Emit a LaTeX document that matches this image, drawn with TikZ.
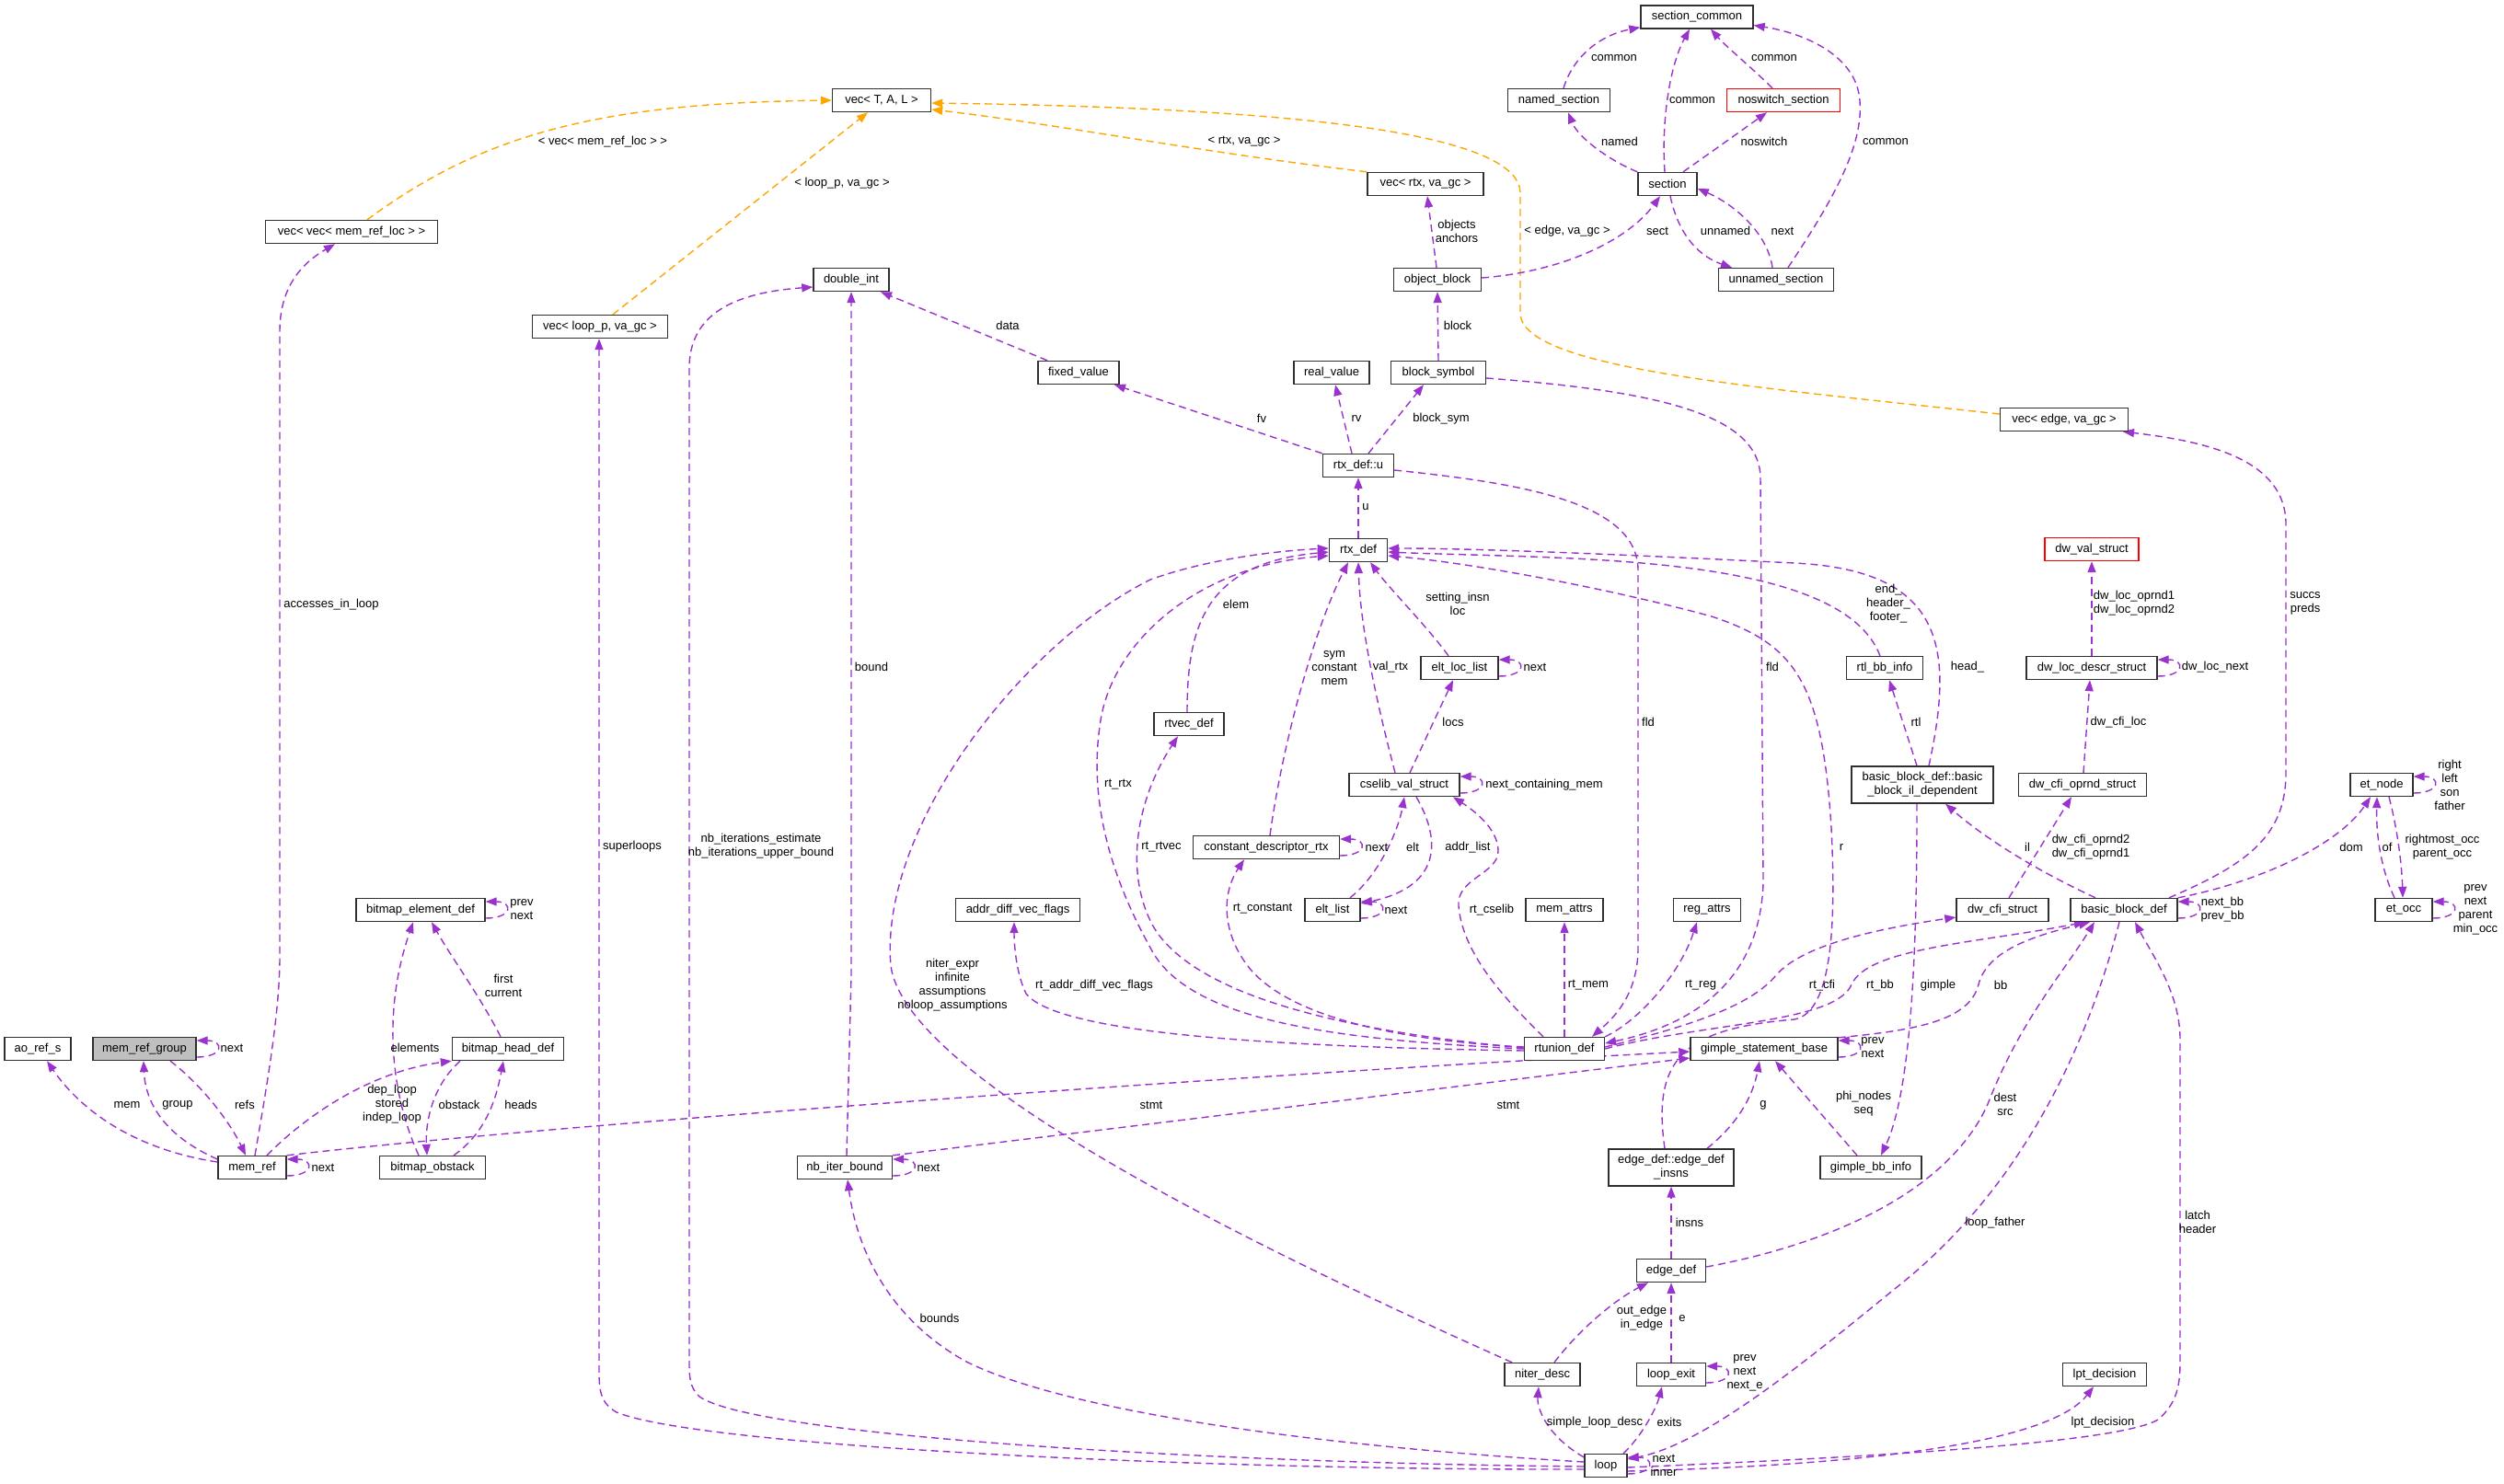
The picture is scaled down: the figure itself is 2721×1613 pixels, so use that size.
\documentclass[tikz,border=0pt]{standalone}
\usepackage{fontspec}
\setmainfont{Liberation Sans}
\usetikzlibrary{arrows.meta}
\pgfdeclarelayer{bg}
\pgfsetlayers{bg,main}
\definecolor{epurple}{HTML}{9A32CD}
\definecolor{eorange}{HTML}{FFA500}
\definecolor{boxgray}{HTML}{BFBFBF}
\definecolor{boxline}{HTML}{303030}
\tikzset{
  box/.style={draw=boxline, line width=1.4pt, fill=white, minimum height=25pt, inner sep=0pt, font=\fontsize{13pt}{15pt}\selectfont, align=center},
  box2/.style={box, minimum height=40pt},
  redbox/.style={box, draw=red},
  conn/.style={draw=epurple, line width=1.4pt, dash pattern=on 8pt off 5pt, -{Triangle[length=12pt,width=9pt,fill=epurple]}},
  tconn/.style={conn, draw=eorange, -{Triangle[length=12pt,width=9pt,fill=eorange]}},
  lab/.style={font=\fontsize{13pt}{15pt}\selectfont, align=center, inner sep=0pt},
  selfloop/.style={conn}
}
\begin{document}
\begin{tikzpicture}[x=1pt,y=-1pt]
\useasboundingbox (0,0) rectangle (2721,1613);
\begin{pgfonlayer}{bg}
\fill[white] (0,0) rectangle (2721,1613);
\end{pgfonlayer}

% ---------------- nodes
\node[box, minimum width=187pt] (vecvec) at (382,252) {vec< vec< mem\_ref\_loc > >};
\node[box, minimum width=147pt] (vecloop) at (652,355) {vec< loop\_p, va\_gc >};
\node[box, minimum width=107pt] (vecT) at (958,109) {vec< T, A, L >};
\node[box, minimum width=82pt] (doubleint) at (925,304) {double\_int};
\node[box, minimum width=88pt] (fixedvalue) at (1172,405) {fixed\_value};
\node[box, minimum width=122pt] (seccommon) at (1844,18.5) {section\_common};
\node[box, minimum width=111pt] (namedsec) at (1694,109) {named\_section};
\node[redbox, minimum width=123pt] (noswitch) at (1938,109) {noswitch\_section};
\node[box, minimum width=126pt] (vecrtx) at (1549,200) {vec< rtx, va\_gc >};
\node[box, minimum width=64pt] (section) at (1812,200) {section};
\node[box, minimum width=95pt] (objblock) at (1562,304) {object\_block};
\node[box, minimum width=125pt] (unnamed) at (1930,304) {unnamed\_section};
\node[box, minimum width=82pt] (realvalue) at (1447,405) {real\_value};
\node[box, minimum width=103pt] (blocksym) at (1563,405) {block\_symbol};
\node[box, minimum width=77pt] (rtxu) at (1476,506) {rtx\_def::u};
\node[box, minimum width=139pt] (vecedge) at (2243,456) {vec< edge, va\_gc >};
\node[box, minimum width=140pt] (bitelem) at (457,989) {bitmap\_element\_def};
\node[box, minimum width=76pt] (rtvec) at (1292,787) {rtvec\_def};
\node[box, minimum width=159pt] (constdesc) at (1376,921) {constant\_descriptor\_rtx};
\node[box, minimum width=135pt] (addrdiff) at (1106,989) {addr\_diff\_vec\_flags};
\node[box, minimum width=63pt] (rtxdef) at (1476,598) {rtx\_def};
\node[box, minimum width=84pt] (eltloc) at (1586,726) {elt\_loc\_list};
\node[box, minimum width=120pt] (cselib) at (1526,853) {cselib\_val\_struct};
\node[box, minimum width=60pt] (eltlist) at (1448,989) {elt\_list};
\node[box, minimum width=84pt] (memattrs) at (1700,989) {mem\_attrs};
\node[box, minimum width=73pt] (regattrs) at (1855,989) {reg\_attrs};
\node[box, minimum width=83pt] (rtlbb) at (2048,726) {rtl\_bb\_info};
\node[box2, minimum width=154pt] (bbil) at (2089,853) {basic\_block\_def::basic\\\_block\_il\_dependent};
\node[redbox, minimum width=102pt] (dwval) at (2273,597) {dw\_val\_struct};
\node[box, minimum width=142pt] (dwloc) at (2273,726) {dw\_loc\_descr\_struct};
\node[box, minimum width=139pt] (dwcfiop) at (2263,853) {dw\_cfi\_oprnd\_struct};
\node[box, minimum width=68pt] (etnode) at (2588,853) {et\_node};
\node[box, minimum width=100pt] (dwcfi) at (2176,989) {dw\_cfi\_struct};
\node[box, minimum width=116pt] (bbdef) at (2308,989) {basic\_block\_def};
\node[box, minimum width=62pt] (etocc) at (2612,989) {et\_occ};
\node[box, minimum width=72pt] (aoref) at (41,1140) {ao\_ref\_s};
\node[box, fill=boxgray, minimum width=112pt] (mrgroup) at (157,1140) {mem\_ref\_group};
\node[box, minimum width=121pt] (bithead) at (552,1140) {bitmap\_head\_def};
\node[box, minimum width=74pt] (memref) at (274,1269) {mem\_ref};
\node[box, minimum width=115pt] (bitobst) at (470,1269) {bitmap\_obstack};
\node[box, minimum width=103pt] (nbiter) at (918,1269) {nb\_iter\_bound};
\node[box, minimum width=87pt] (rtunion) at (1700,1140) {rtunion\_def};
\node[box, minimum width=160pt] (gimple) at (1917,1140) {gimple\_statement\_base};
\node[box2, minimum width=136pt] (edgeinsns) at (1816,1269) {edge\_def::edge\_def\\\_insns};
\node[box, minimum width=110pt] (gimplebb) at (2033,1269) {gimple\_bb\_info};
\node[box, minimum width=75pt] (edgedef) at (1816,1381) {edge\_def};
\node[box, minimum width=82pt] (niter) at (1676,1494) {niter\_desc};
\node[box, minimum width=75pt] (loopexit) at (1816,1494) {loop\_exit};
\node[box, minimum width=46pt] (loop) at (1745,1593) {loop};
\node[box, minimum width=91pt] (lpt) at (2287,1494) {lpt\_decision};

\begin{pgfonlayer}{bg}
% ---------------- template (orange) connectors
\draw[tconn] ([xshift=17pt]vecvec.north) .. controls (520,150) and (640,112) .. (vecT.west);
\draw[tconn] ([xshift=14pt]vecloop.north) -- ([xshift=-15pt]vecT.south);
\draw[tconn] (vecrtx.north west) .. controls (1300,165) and (1150,135) .. ([yshift=-10pt]vecT.east);
\draw[tconn] ([yshift=6pt]vecedge.west) .. controls (1900,420) and (1652,400) .. (1652,340) -- (1652,210) .. controls (1652,150) and (1450,118) .. ([yshift=-3pt]vecT.east);

% ---------------- section family
\draw[conn] ([xshift=5pt]namedsec.north) .. controls (1710,60) and (1740,38) .. ([yshift=2pt]seccommon.south west);
\draw[conn] ([xshift=-3pt]section.north) .. controls (1805,130) and (1815,70) .. ([xshift=-8pt]seccommon.south);
\draw[conn] ([xshift=-12pt]noswitch.north) .. controls (1905,75) and (1875,50) .. ([xshift=15pt]seccommon.south);
\draw[conn] ([xshift=13pt]unnamed.north) .. controls (1990,220) and (2025,160) .. (2021,110) .. controls (2018,60) and (1960,36) .. ([yshift=-9pt]seccommon.east);
\draw[conn] (section.north west) .. controls (1750,175) and (1715,150) .. ([xshift=10pt]namedsec.south);
\draw[conn] ([xshift=17pt]section.north) .. controls (1860,165) and (1895,140) .. ([xshift=-18pt]noswitch.south);
\draw[conn] ([yshift=2pt]objblock.east) .. controls (1700,295) and (1770,260) .. ([xshift=-8pt]section.south);
\draw[conn] ([xshift=3pt]section.south) .. controls (1825,260) and (1850,280) .. ([xshift=-48pt]unnamed.north);
\draw[conn] ([xshift=-4pt]unnamed.north) .. controls (1920,250) and (1880,220) .. ([yshift=-5pt]section.east);
\draw[conn] ([xshift=-1pt]objblock.north) -- ([xshift=2pt]vecrtx.south);
\draw[conn] (blocksym.north) -- (objblock.south);

% ---------------- rtx_def::u
\draw[conn] ([xshift=-7pt]rtxu.north) -- ([xshift=4pt]realvalue.south);
\draw[conn] ([xshift=11pt]rtxu.north) -- ([xshift=-16pt]blocksym.south);
\draw[conn] (rtxu.north west) -- ([xshift=39pt]fixedvalue.south);
\draw[conn] ([xshift=-34pt]fixedvalue.north) -- ([xshift=32pt]doubleint.south);
\draw[conn] (rtxdef.north) -- (rtxu.south);
\draw[conn] ([yshift=-5pt]rtxu.east) .. controls (1650,525) and (1780,545) .. (1780,620) -- (1780,1030) .. controls (1780,1080) and (1755,1105) .. ([xshift=30pt]rtunion.north);
\draw[conn] ([yshift=-6pt]blocksym.east) .. controls (1800,425) and (1913,450) .. (1913,520) -- (1916,960) .. controls (1912,1080) and (1820,1118) .. ([yshift=6pt]rtunion.east);

% ---------------- rtunion_def
\draw[conn] (rtunion.north) -- (memattrs.south);
\draw[conn] (rtunion.north east) .. controls (1780,1110) and (1825,1060) .. ([xshift=-11pt]regattrs.south);
\draw[conn] ([yshift=2pt]rtunion.east) .. controls (1850,1112) and (1905,1090) .. (1930,1060) .. controls (1960,1025) and (2050,1008) .. ([yshift=-8pt]dwcfi.west);
\draw[conn] (rtunion.east) .. controls (1850,1112) and (1995,1112) .. (2012,1070) .. controls (2030,1030) and (2150,1025) .. ([xshift=-42pt]bbdef.south);
\draw[conn] ([xshift=-23pt]rtunion.north) .. controls (1640,1090) and (1590,1040) .. (1585,985) .. controls (1582,955) and (1628,950) .. (1628,925) .. controls (1628,900) and (1600,880) .. ([xshift=53pt]cselib.south);
\draw[conn] ([yshift=-2pt]rtunion.west) .. controls (1400,1138) and (1150,1125) .. (1115,1080) .. controls (1105,1060) and (1102,1030) .. ([xshift=-4pt]addrdiff.south);
\draw[conn] ([yshift=2pt]rtunion.west) .. controls (1500,1130) and (1400,1100) .. (1360,1055) .. controls (1330,1020) and (1325,975) .. ([xshift=-24pt]constdesc.south);
\draw[conn] ([yshift=1pt]rtunion.west) .. controls (1450,1120) and (1300,1080) .. (1255,1010) .. controls (1225,960) and (1228,880) .. ([xshift=-12pt]rtvec.south);
\draw[conn] (rtunion.west) .. controls (1450,1130) and (1290,1110) .. (1250,1030) .. controls (1200,940) and (1185,860) .. (1195,790) .. controls (1205,700) and (1300,615) .. ([yshift=-6pt]rtxdef.west);

% ---------------- into rtx_def
\draw[conn] ([xshift=-2pt]rtvec.north) .. controls (1290,680) and (1310,612) .. ([yshift=-2pt]rtxdef.west);
\draw[conn] ([xshift=-33pt]niter.north) .. controls (1350,1350) and (985,1170) .. (968,1050) .. controls (955,900) and (1110,700) .. (1250,630) .. controls (1320,605) and (1400,598) .. ([yshift=2pt]rtxdef.west);
\draw[conn] ([xshift=4pt]constdesc.north) .. controls (1395,800) and (1430,680) .. ([xshift=-11pt]rtxdef.south);
\draw[conn] ([xshift=-10pt]cselib.north) .. controls (1495,760) and (1478,680) .. (rtxdef.south);
\draw[conn] ([xshift=-12pt]eltloc.north) .. controls (1550,680) and (1510,640) .. ([xshift=13pt]rtxdef.south);
\draw[conn] ([xshift=6pt]cselib.north) -- ([xshift=-7pt]eltloc.south);
\draw[conn] ([xshift=13pt]cselib.south) .. controls (1570,920) and (1560,965) .. ([yshift=7pt]eltlist.east);
\draw[conn] ([xshift=19pt]eltlist.north) .. controls (1500,950) and (1520,900) .. (cselib.south);
\draw[conn] ([xshift=-5pt]rtlbb.north) .. controls (2000,600) and (1700,608) .. ([yshift=-2pt]rtxdef.east);
\draw[conn] ([xshift=7pt]bbil.north) .. controls (2125,700) and (2110,620) .. (1950,612) .. controls (1750,602) and (1600,596) .. ([yshift=2pt]rtxdef.east);
\draw[conn] ([xshift=-7pt]edgeinsns.north) .. controls (1795,1150) and (1830,1118) .. (1950,1108) .. controls (1992,1100) and (1995,1000) .. (1990,900) .. controls (1980,740) and (1950,700) .. (1860,670) .. controls (1750,640) and (1600,612) .. ([yshift=-6pt]rtxdef.east);

% ---------------- gimple / basic block
\draw[conn] ([xshift=39pt]edgeinsns.north) .. controls (1890,1220) and (1905,1190) .. ([xshift=-5pt]gimple.south);
\draw[conn] ([xshift=-15pt]gimplebb.north) -- ([xshift=12pt]gimple.south);
\draw[conn] ([xshift=-6pt]bbil.south) .. controls (2083,1000) and (2080,1180) .. ([xshift=11pt]gimplebb.north);
\draw[conn] ([xshift=-6pt]bbil.north) -- ([xshift=5pt]rtlbb.south);
\draw[conn] ([yshift=-1pt]gimple.north east) .. controls (2080,1120) and (2140,1110) .. (2150,1070) .. controls (2160,1030) and (2220,1015) .. ([xshift=-37pt]bbdef.south);
\draw[conn] (dwloc.north) -- (dwval.south);
\draw[conn] ([xshift=1pt]dwcfiop.north) -- ([xshift=-2pt]dwloc.south);
\draw[conn] ([xshift=7pt]dwcfi.north) -- ([xshift=-12pt]dwcfiop.south);
\draw[conn] ([xshift=-31pt]bbdef.north) .. controls (2200,940) and (2150,905) .. ([xshift=25pt]bbil.south);
\draw[conn] (bbdef.north east) .. controls (2450,960) and (2540,920) .. ([xshift=-12pt]etnode.south);
\draw[conn] ([xshift=49pt]bbdef.north) .. controls (2440,940) and (2484,910) .. (2484,840) -- (2484,570) .. controls (2484,500) and (2400,480) .. ([xshift=64pt]vecedge.south);
\draw[conn] ([yshift=-2pt]loop.east) .. controls (2000,1585) and (2300,1570) .. (2345,1543) .. controls (2366,1525) and (2369,1505) .. (2369,1480) -- (2369,1130) .. controls (2369,1080) and (2340,1040) .. ([xshift=12pt]bbdef.south);
\draw[conn] ([xshift=-5pt]bbdef.south) .. controls (2270,1130) and (2200,1290) .. (2060,1400) .. controls (1950,1490) and (1850,1570) .. ([yshift=7pt]loop.east);
\draw[conn] ([yshift=-6pt]loop.east) .. controls (2050,1592) and (2230,1565) .. ([xshift=-12pt]lpt.south);
\draw[conn] ([yshift=4pt]edgedef.east) .. controls (2000,1350) and (2120,1290) .. (2160,1200) .. controls (2195,1110) and (2240,1060) .. ([xshift=-32pt]bbdef.south);

% ---------------- loop family
\draw[conn] ([yshift=9pt]loop.west) .. controls (1680,1560) and (1670,1530) .. ([xshift=-4pt]niter.south);
\draw[conn] ([xshift=19pt]loop.north) .. controls (1785,1560) and (1800,1530) .. ([xshift=-10pt]loopexit.south);
\draw[conn] (loopexit.north) -- (edgedef.south);
\draw[conn] ([xshift=13pt]niter.north) .. controls (1720,1440) and (1760,1410) .. ([xshift=-25pt]edgedef.south);
\draw[conn] (edgedef.north) -- (edgeinsns.south);
\draw[conn] ([yshift=4pt]loop.west) .. controls (1400,1570) and (1150,1530) .. (1050,1480) .. controls (960,1430) and (930,1350) .. ([xshift=3pt]nbiter.south);
\draw[conn] ([yshift=-1pt]loop.west) .. controls (1300,1590) and (820,1560) .. (760,1518) .. controls (749,1508) and (749,1495) .. (749,1480) -- (749,400) .. controls (749,340) and (800,318) .. ([yshift=-8pt]doubleint.west);
\draw[conn] ([yshift=-4pt]loop.west) .. controls (1300,1598) and (760,1572) .. (670,1535) .. controls (652,1525) and (651,1510) .. (651,1490) -- ([xshift=-1pt]vecloop.south);
\draw[conn] ([xshift=2pt]nbiter.north) -- (925,1060) -- (doubleint.south);
\draw[conn] (nbiter.north east) -- ([yshift=-10pt]gimple.west);
\draw[conn] (memref.north east) .. controls (600,1222) and (1400,1165) .. ([yshift=-3pt]gimple.west);

% ---------------- et
\draw[conn] ([xshift=8pt]etnode.south) .. controls (2605,900) and (2610,940) .. ([xshift=-1pt]etocc.north);
\draw[conn] ([xshift=-10pt]etocc.north) .. controls (2585,940) and (2582,900) .. ([xshift=-5pt]etnode.south);

% ---------------- bitmap & mem_ref
\draw[conn] ([xshift=16pt]memref.north) .. controls (330,1215) and (400,1165) .. (bithead.south west);
\draw[conn] ([xshift=-52pt]bithead.south) .. controls (470,1180) and (462,1220) .. ([xshift=-6pt]bitobst.north);
\draw[conn] ([xshift=23pt]bitobst.north) .. controls (530,1230) and (540,1190) .. ([xshift=-5pt]bithead.south);
\draw[conn] ([xshift=-8pt]bithead.north) .. controls (520,1080) and (490,1040) .. ([xshift=12pt]bitelem.south);
\draw[conn] ([xshift=-15pt]bitobst.north) .. controls (425,1190) and (415,1100) .. ([xshift=-8pt]bitelem.south);
\draw[conn] ([yshift=9pt]memref.west) .. controls (180,1235) and (158,1200) .. ([xshift=-1pt]mrgroup.south);
\draw[conn] ([yshift=6pt]memref.west) .. controls (150,1250) and (90,1210) .. ([xshift=10pt]aoref.south);
\draw[conn] ([xshift=28pt]mrgroup.south) .. controls (220,1180) and (250,1220) .. ([xshift=-7pt]memref.north);
\draw[conn] ([xshift=3pt]memref.north) .. controls (290,1180) and (304,1100) .. (304,1040) -- (304,360) .. controls (304,310) and (330,285) .. ([xshift=-18pt]vecvec.south);

% ---------------- self loops
\foreach \n in {mrgroup,memref,bitelem,nbiter,constdesc,eltloc,cselib,eltlist,dwloc,bbdef,etnode,etocc,gimple,loopexit,loop}{
  \draw[selfloop] ([yshift=-9pt]\n.east) .. controls +(30pt,0pt) and +(30pt,0pt) .. ([yshift=9pt]\n.east);
}
\end{pgfonlayer}

% ---------------- labels
\node[lab] (t1) at (655,154) {< vec< mem\_ref\_loc > >};
\node[lab] (t2) at (915,199) {< loop\_p, va\_gc >};
\node[lab] (t3) at (1352,154) {< rtx, va\_gc >};
\node[lab] (t4) at (1703,251) {< edge, va\_gc >};
\node[lab] (l1) at (1754,63) {common};
\node[lab] (l2) at (1839,109) {common};
\node[lab] (l3) at (1928,63) {common};
\node[lab] (l4) at (2049,154) {common};
\node[lab] (l5) at (1760,154) {named};
\node[lab] (l6) at (1917,154) {noswitch};
\node[lab] (l7) at (1801,251) {sect};
\node[lab] (l8) at (1875,251) {unnamed};
\node[lab] (l9) at (1937,251) {next};
\node[lab] (l10) at (1583,251) {objects\\anchors};
\node[lab] (l11) at (1584,354) {block};
\node[lab] (l12) at (1474,455) {rv};
\node[lab] (l13) at (1566,455) {block\_sym};
\node[lab] (l14) at (1371,455) {fv};
\node[lab] (l15) at (1095,354) {data};
\node[lab] (l16) at (1484,551) {u};
\node[lab] (l17) at (1791,785) {fld};
\node[lab] (l18) at (1926,725) {fld};
\node[lab] (l19) at (1726,1071) {rt\_mem};
\node[lab] (l20) at (1848,1071) {rt\_reg};
\node[lab] (l21) at (1980,1071) {rt\_cfi};
\node[lab] (l22) at (2043,1071) {rt\_bb};
\node[lab] (l23) at (2174,1071) {bb};
\node[lab] (l24) at (1621,989) {rt\_cselib};
\node[lab] (l25) at (1189,1071) {rt\_addr\_diff\_vec\_flags};
\node[lab] (l26) at (1372,988) {rt\_constant};
\node[lab] (l27) at (1262,921) {rt\_rtvec};
\node[lab] (l28) at (1215,853) {rt\_rtx};
\node[lab] (l29) at (1343,657) {elem};
\node[lab] (l30) at (1035,1071) {niter\_expr\\infinite\\assumptions\\noloop\_assumptions};
\node[lab] (l31) at (1450,726) {sym\\constant\\mem};
\node[lab] (l32) at (1511,725) {val\_rtx};
\node[lab] (l33) at (1584,656) {setting\_insn\\loc};
\node[lab] (l34) at (1579,785) {locs};
\node[lab] (l35) at (1595,921) {addr\_list};
\node[lab] (l36) at (1535,921) {elt};
\node[lab] (l37) at (2052,656) {end\_\\header\_\\footer\_};
\node[lab] (l38) at (2138,725) {head\_};
\node[lab] (l39) at (2001,921) {r};
\node[lab] (l40) at (1916,1201) {g};
\node[lab] (l41) at (2025,1200) {phi\_nodes\\seq};
\node[lab] (l42) at (2106,1071) {gimple};
\node[lab] (l43) at (2082,785) {rtl};
\node[lab] (l44) at (2319,656) {dw\_loc\_oprnd1\\dw\_loc\_oprnd2};
\node[lab] (l45) at (2302,785) {dw\_cfi\_loc};
\node[lab] (l46) at (2272,921) {dw\_cfi\_oprnd2\\dw\_cfi\_oprnd1};
\node[lab] (l47) at (2203,921) {il};
\node[lab] (l48) at (2555,921) {dom};
\node[lab] (l49) at (2505,656) {succs\\preds};
\node[lab] (l50) at (2388,1328) {latch\\header};
\node[lab] (l51) at (2168,1329) {loop\_father};
\node[lab] (l52) at (2285,1546) {lpt\_decision};
\node[lab] (l53) at (1733,1546) {simple\_loop\_desc};
\node[lab] (l54) at (1814,1546) {exits};
\node[lab] (l55) at (1808,1593) {next\\inner};
\node[lab] (l56) at (1828,1433) {e};
\node[lab] (l57) at (1896,1492) {prev\\next\\next\_e};
\node[lab] (l58) at (1784,1433) {out\_edge\\in\_edge};
\node[lab] (l59) at (1836,1329) {insns};
\node[lab] (l60) at (2179,1200) {dest\\src};
\node[lab] (l61) at (2654,921) {rightmost\_occ\\parent\_occ};
\node[lab] (l62) at (2594,921) {of};
\node[lab] (l63) at (2662,853) {right\\left\\son\\father};
\node[lab] (l64) at (2690,989) {prev\\next\\parent\\min\_occ};
\node[lab] (l65) at (2415,989) {next\_bb\\prev\_bb};
\node[lab] (l66) at (2407,725) {dw\_loc\_next};
\node[lab] (l67) at (2035,1139) {prev\\next};
\node[lab] (l68) at (1668,725) {next};
\node[lab] (l69) at (1678,853) {next\_containing\_mem};
\node[lab] (l70) at (1496,921) {next};
\node[lab] (l71) at (1517,989) {next};
\node[lab] (l72) at (567,989) {prev\\next};
\node[lab] (l73) at (252,1139) {next};
\node[lab] (l74) at (351,1269) {next};
\node[lab] (l75) at (1009,1269) {next};
\node[lab] (l76) at (426,1200) {dep\_loop\\stored\\indep\_loop};
\node[lab] (l77) at (499,1201) {obstack};
\node[lab] (l78) at (566,1201) {heads};
\node[lab] (l79) at (547,1071) {first\\current};
\node[lab] (l80) at (451,1139) {elements};
\node[lab] (l81) at (193,1201) {group};
\node[lab] (l82) at (138,1201) {mem};
\node[lab] (l83) at (266,1201) {refs};
\node[lab] (l84) at (360,657) {accesses\_in\_loop};
\node[lab] (l85) at (1251,1201) {stmt};
\node[lab] (l86) at (1639,1201) {stmt};
\node[lab] (l87) at (947,725) {bound};
\node[lab] (l88) at (827,920) {nb\_iterations\_estimate\\nb\_iterations\_upper\_bound};
\node[lab] (l89) at (687,920) {superloops};
\node[lab] (l90) at (1021,1433) {bounds};
\end{tikzpicture}
\end{document}
